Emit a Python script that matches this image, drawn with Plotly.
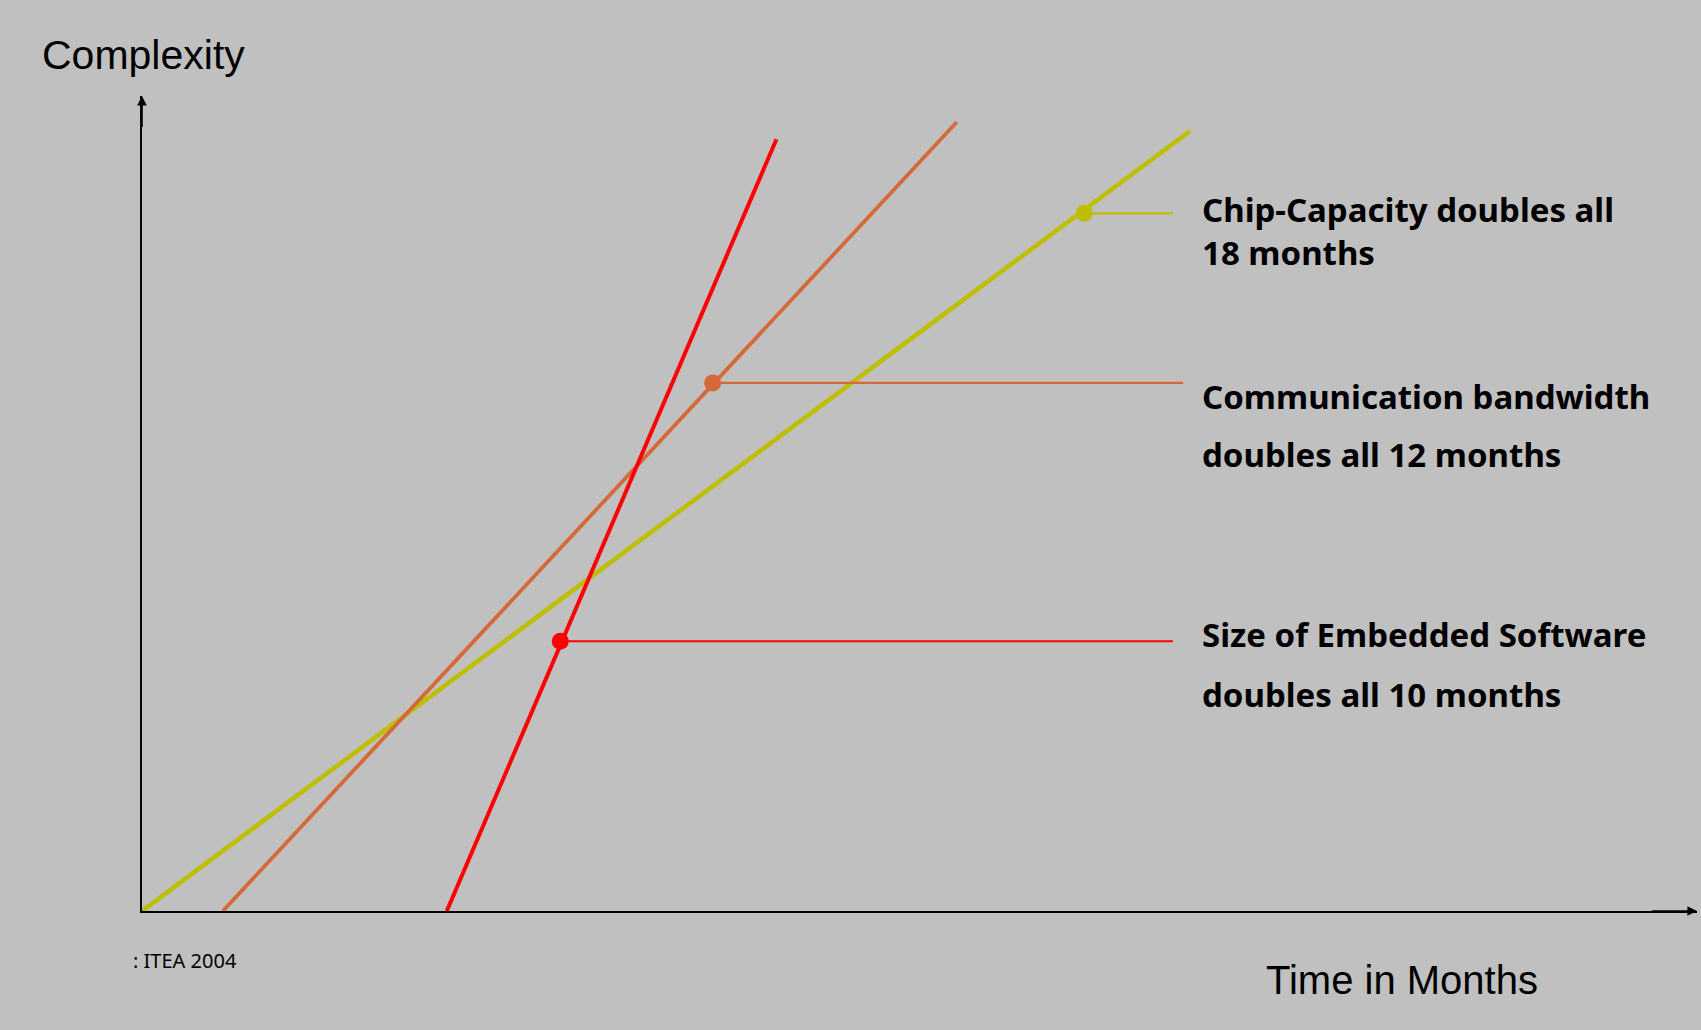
import plotly.graph_objects as go

# ---- data (time in arbitrary month units, complexity in arbitrary units) ----
chip_x = [0.0, 67.4]
chip_y = [0.0, 95.7]
comm_x = [5.2, 52.4]
comm_y = [0.0, 96.8]
soft_x = [19.6, 40.8]
soft_y = [0.0, 94.7]

# marker points on each line and end of their leader lines
chip_mark = (60.6, 85.6)
comm_mark = (36.7, 64.8)
soft_mark = (26.9, 33.1)
leader_end_x = [66.3, 66.95, 66.3]

chip_label = ["Chip-Capacity doubles all", "18 months"]
comm_label = ["Communication bandwidth", "doubles all 12 months"]
soft_label = ["Size of Embedded Software", "doubles all 10 months"]

YELLOW = "#BEBE00"
ORANGE = "#D4693A"
RED = "#FF0000"
BG = "#C0C0C0"

W, H = 1701, 1030
L, R, T, B = 142, 4, 96, 119
XMAX, YMAX = 100.0, 100.0


def px2paper(px):
    return (px - L) / (W - L - R)


def py2paper(py):
    return (H - B - py) / (H - B - T)


fig = go.Figure()

for xs, ys, col, w in [(chip_x, chip_y, YELLOW, 4.5), (comm_x, comm_y, ORANGE, 3.8), (soft_x, soft_y, RED, 4)]:
    fig.add_trace(go.Scatter(x=xs, y=ys, mode="lines", line=dict(color=col, width=w),
                             hoverinfo="skip", showlegend=False, cliponaxis=False))

for (mx, my), ex, col in zip([chip_mark, comm_mark, soft_mark], leader_end_x, [YELLOW, ORANGE, RED]):
    fig.add_trace(go.Scatter(x=[mx, ex], y=[my, my], mode="lines", line=dict(color=col, width=2.2),
                             hoverinfo="skip", showlegend=False, cliponaxis=False))
    fig.add_trace(go.Scatter(x=[mx], y=[my], mode="markers", marker=dict(color=col, size=17),
                             hoverinfo="skip", showlegend=False, cliponaxis=False))

annotations = []
BOLD = dict(family="Noto Sans", size=33, color="black", weight="bold")


def label(text, px, baseline, font):
    size = font["size"]
    annotations.append(dict(x=px2paper(px), y=py2paper(baseline - 0.32 * size), xref="paper", yref="paper",
                            text=text, showarrow=False, xanchor="left", yanchor="middle",
                            font=font))


label(chip_label[0], 1200, 220, BOLD)
label(chip_label[1], 1200, 263, BOLD)
label(comm_label[0], 1200, 407, BOLD)
label(comm_label[1], 1200, 465, BOLD)
label(soft_label[0], 1200, 645, BOLD)
label(soft_label[1], 1200, 705, BOLD)
label("Complexity", 40, 68, dict(family="Liberation Sans", size=41, color="black"))
label("Time in Months", 1264, 993, dict(family="Liberation Sans", size=40, color="black"))
label(": ITEA 2004", 131, 967, dict(family="Noto Sans", size=20, color="black"))

# axis arrowheads
annotations.append(dict(x=XMAX, y=0, ax=XMAX - 3, ay=0, xref="x", yref="y", axref="x", ayref="y",
                        text="", showarrow=True, arrowhead=2, arrowsize=1.2, arrowwidth=1.6,
                        arrowcolor="black"))
annotations.append(dict(x=0, y=YMAX, ax=0, ay=YMAX - 4, xref="x", yref="y", axref="x", ayref="y",
                        text="", showarrow=True, arrowhead=2, arrowsize=1.2, arrowwidth=1.6,
                        arrowcolor="black"))

fig.update_layout(
    width=W, height=H,
    margin=dict(l=L, r=R, t=T, b=B, pad=0),
    paper_bgcolor=BG, plot_bgcolor=BG,
    xaxis=dict(range=[0, XMAX], showgrid=False, zeroline=False, showticklabels=False, ticks="",
               showline=True, linecolor="black", linewidth=1.6, fixedrange=True),
    yaxis=dict(range=[0, YMAX], showgrid=False, zeroline=False, showticklabels=False, ticks="",
               showline=True, linecolor="black", linewidth=1.6, fixedrange=True),
    annotations=annotations,
    showlegend=False,
)

fig.write_html("out.html", config={"displayModeBar": False})
